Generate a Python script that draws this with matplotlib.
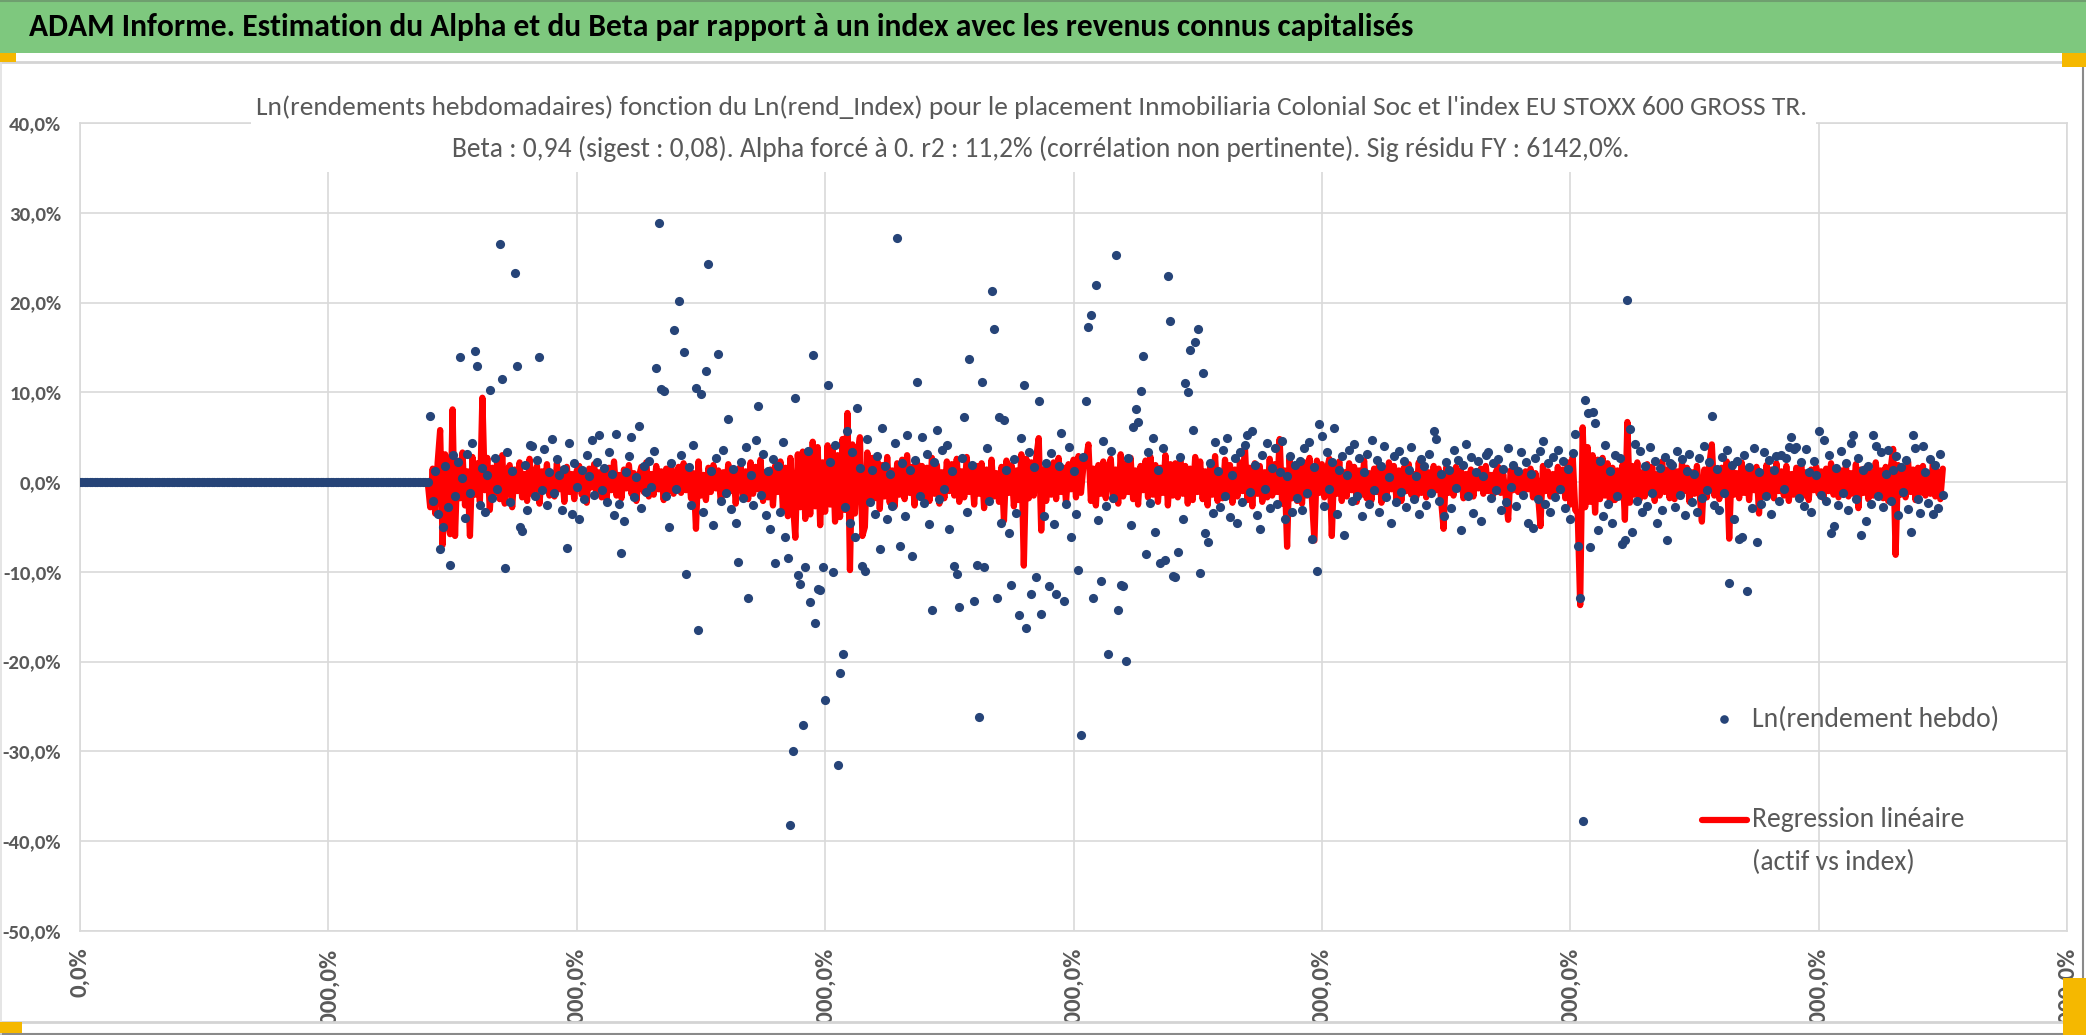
import numpy as np
import matplotlib.pyplot as plt
from matplotlib.lines import Line2D
from matplotlib.patches import Rectangle

# ---- donnees (dixiemes de pourcent, semaines 141 a 750) ----
semaines_sans_cotation = 141  # semaines 0..140 : rendement nul

actif_a = [74, -21, 12, -35, -74, -50, 18, -28, -92, 30,
           -15, 22, 139, 5, -40, 31, -12, 44, 146, 129,
           -25, 16, -33, 8, 103, -18, 27, -8, 265, 115,
           -96, 34, -22, 12, 233, 129, -50, -55, 19, -31,
           41, 40, -16, 25, 139, -9, 37, -26, 11, 48]
actif_b = [-12, 26, 8, -31, 15, -73, 44, -36, 21, -5,
           -41, 13, -19, 30, 7, 47, -14, 22, 52, -9,
           16, -22, 33, 9, -37, 54, -24, -79, -43, 11,
           29, 50, -17, 6, 63, -29, 18, -11, 24, -6,
           35, 127, 289, 104, 102, -15, -50, 21, 169, -8]
actif_c = [202, 30, 145, -102, 17, -25, 41, 105, -165, 98,
           -33, 124, 243, 12, -48, 27, 143, -21, 36, -12,
           70, -30, 15, -45, -89, 22, -18, 39, -129, 8,
           -26, 47, 85, -14, 31, -37, 12, -52, 26, -90,
           18, -33, 45, -61, -84, -382, -299, 94, -104, -114]
actif_d = [-271, -94, 35, -133, 142, -157, -119, -120, -95, -243,
           108, 22, -100, 41, -315, -213, -192, -28, 57, -46,
           34, -61, 82, 16, -93, -99, 48, -22, 13, -35,
           29, -75, 60, 18, -41, 9, -27, 44, 272, -71,
           21, -38, 52, 14, -82, 25, 111, -16, 50, -23]
actif_e = [31, -47, -143, 22, 58, -19, 36, -8, 41, -52,
           12, -93, -102, -139, 27, 72, -33, 137, 19, -132,
           -92, -262, 111, -94, 38, -21, 213, 171, -129, 73,
           -45, 69, 14, -57, -115, 26, -34, -148, 49, 108,
           -162, 33, -125, 17, -106, 90, -147, -38, 21, -116]
actif_f = [32, -47, -125, 18, 55, -132, -24, 39, -61, 12,
           -35, -98, -282, 28, 90, 173, 186, -129, 220, -42,
           -110, 46, -27, -191, 35, -18, 253, -143, -115, -116,
           -199, 27, -48, 61, 81, 67, 102, 140, -80, 33,
           -23, 49, -56, 14, -90, 38, -87, 230, 180, -105]
actif_g = [-106, -78, 28, -41, 110, 100, 147, 58, 156, 171,
           -101, 122, -57, -67, 21, -34, 45, 12, -28, 36,
           -15, 49, -39, 8, 27, -46, 33, -22, 41, 53,
           -11, 57, 19, -37, -52, 30, -8, 44, -29, 16,
           38, -24, 11, 46, -41, 7, 29, -33, 19, -18]
actif_h = [24, -31, 38, -12, 45, -63, 17, -99, 65, 51,
           -27, 33, -8, 22, 60, -36, 14, 29, -59, 8,
           36, -21, 42, -15, 27, -38, 11, 31, -24, 47,
           -9, 25, -33, 18, 40, -17, 6, -45, 29, -22,
           35, -11, 23, -28, 14, 39, -19, 7, -36, 26]
actif_i = [18, -26, 31, -12, 57, 48, -21, 9, -38, 22,
           13, -29, 36, -7, 25, -53, 19, 42, -15, 28,
           -34, 11, 24, -43, 7, 30, 34, -18, 21, -9,
           26, -31, 15, -22, 38, -6, 19, -27, 12, 33,
           -14, 22, -46, 9, -51, 27, -19, 35, 46, -24]
actif_j = [21, -33, 28, -17, 36, -8, 24, -29, 15, -41,
           32, 54, -71, -129, -377, 91, 77, -72, 78, 66,
           -53, 23, -38, 41, -24, 12, -46, 30, -15, 27,
           -69, -64, 203, 59, -56, 42, -21, 35, -33, 18,
           -27, 39, -12, 24, -45, 16, -31, 28, -65, 21]
actif_k = [19, -28, 35, -14, 26, -37, 12, 31, -22, 9,
           -33, 27, -18, 40, -9, 22, 74, -26, 15, -31,
           28, -12, 36, -112, 19, -41, 23, -63, -61, 30,
           -121, 17, -29, 38, -67, 11, -24, 33, -16, 25,
           -35, 14, 29, -21, 30, -8, 27, 39, 50, 37]
actif_l = [39, -18, 22, -27, 37, 11, -33, 24, 8, 57,
           -14, 47, -21, 30, -57, -49, 16, -26, 35, -12,
           21, -31, 44, 52, -19, 27, -59, 13, -43, 18,
           -24, 52, 40, -16, 33, -28, 9, 36, -21, 14,
           29, -37, 17, -11, 25, -30, -56, 52, 38, -19,
           -34, 40, 11, -23, 26, -36, 19, -29, 31, -14]

regr_a = [-28, 15, -35, 22, 58, -70, 31, -45, -58, 81,
          -60, 24, -18, 33, -26, 12, -60, 28, -14, 21,
          -22, 94, -9, 27, -31, 16, -12, 25, -19, 30,
          -24, 11, 19, -28, 14, -10, 22, -17, 9, -21,
          26, -13, 8, 18, -24, 12, -7, 20, -15, 10]
regr_b = [-16, 21, -8, 14, -22, 17, -11, 9, -19, 13,
          18, -14, 7, -23, 15, -6, 20, -12, 11, -17,
          12, -20, 16, -9, 23, -15, 8, -18, 14, -7,
          19, -13, 10, -21, 6, 17, -11, 22, -16, 9,
          -14, 18, -8, 12, -20, 15, -10, 21, -13, 7]
regr_c = [17, -12, 21, -9, 14, -18, 10, -52, 23, -15,
          8, -20, 16, -11, 19, -7, 13, -22, 11, -14,
          20, -10, 15, -24, 9, 18, -16, 12, -19, 22,
          -13, 17, -8, 25, -21, 11, -17, 14, -26, 19,
          -11, 23, -30, 16, -38, 27, -22, -62, 31, -28]
regr_d = [34, -41, 28, -36, 45, -27, 39, -48, 22, -33,
          41, -25, 36, -44, 30, -39, 48, -31, 77, -98,
          42, -35, 29, 50, -60, -50, 33, -22, 27, -18,
          24, -30, 19, -16, 28, -23, 13, -27, 21, -14,
          25, -19, 30, -12, 17, -26, 22, -9, 18, -24]
regr_e = [16, -21, 27, -13, 19, -24, 11, -18, 23, -10,
          20, -15, 26, -22, 12, -17, 28, -11, 15, -25,
          18, -13, 21, -29, 14, -19, 25, -16, 10, -22,
          17, -43, 24, -12, 19, -27, 13, -20, 31, -93,
          26, -18, 22, -15, 28, 49, -54, 14, -21, 17]
regr_f = [-14, 22, -19, 27, -11, 16, -23, 20, -8, 25,
          -17, 29, -12, 18, 24, 42, -21, 15, -26, 19,
          -13, 23, -18, 11, 26, -20, 14, -24, 31, -16,
          21, -11, 27, -19, 13, -25, 18, -9, 24, -17,
          28, -14, 19, -22, 16, -12, 30, -26, 20, -15]
regr_g = [21, -17, 26, -13, 18, -24, 15, -20, 28, -11,
          23, -19, 12, -26, 17, -14, 29, -21, 10, -18,
          25, -12, 19, -23, 14, -16, 22, -10, 40, -20,
          16, -27, 21, -13, 18, -22, 11, -17, 26, -15,
          20, -11, 48, -24, 13, -72, 27, -18, 15, -21]
regr_h = [18, -24, 22, -15, 27, -19, -65, 24, -12, 20,
          -17, 14, 26, -60, 19, -13, 23, -21, 11, -16,
          21, -9, 17, -22, 13, -14, 24, -18, 10, -20,
          15, -11, 19, -23, 12, -16, 22, -8, 18, -19,
          13, -21, 16, -10, 20, -14, 9, -17, 22, -12]
regr_i = [14, -17, 11, -13, 18, -9, 15, -20, -52, 16,
          -12, 10, -15, 17, -8, 13, -18, 9, -11, 14,
          -16, 12, -7, 15, -13, 18, -10, 8, -14, 11,
          17, -12, 9, -15, -42, 13, -9, 16, -11, 7,
          -14, 12, -8, 15, -17, 10, -13, -49, 18, -10]
regr_j = [12, -16, 9, -13, 17, -10, 14, -18, 22, -25,
          28, -31, -35, -137, 61, -28, 39, -22, 30, -34,
          25, -19, 27, -15, 21, -24, 16, -20, 13, -17,
          19, -42, 67, -23, 18, -14, 22, -19, 11, -16,
          20, -12, 17, -21, 9, -15, 23, -11, 14, -18]
regr_k = [15, -19, 12, -14, 21, -10, 16, -22, 11, -13,
          18, -9, -44, 14, -17, 20, 42, -15, 12, -19,
          16, -11, 23, -63, 19, -14, 10, -18, 22, -12,
          15, -20, 13, -9, 17, -35, 11, -16, 19, -13,
          14, -18, 21, -10, 12, -15, 18, -21, 9, -14]
regr_l = [16, -12, 19, -15, 11, -20, 14, -9, 17, -13,
          12, -18, 15, -10, 21, -14, 9, -17, 13, -11,
          18, -16, 10, -13, 20, -29, 14, -12, 16, -19,
          11, -15, 22, -10, 13, -18, 17, -21, 15, 37,
          -81, 19, -14, 12, -17, 23, -11, 14, -20, 16,
          -12, 18, -15, 10, -13, 21, -16, 12, -19, 15]

graduations_x = [0, 100, 200, 300, 400, 500, 600, 700, 800]
graduations_y = [-0.5, -0.4, -0.3, -0.2, -0.1, 0.0, 0.1, 0.2, 0.3, 0.4]

titre = ("ADAM Informe. Estimation du Alpha et du Beta par rapport à un index "
         "avec les revenus connus capitalisés")
sous_titre_1 = ("Ln(rendements hebdomadaires) fonction du Ln(rend_Index) pour le placement "
                "Inmobiliaria Colonial Soc et l'index EU STOXX 600 GROSS TR.")
sous_titre_2 = ("Beta : 0,94 (sigest : 0,08). Alpha forcé à 0. r2 : 11,2% "
                "(corrélation non pertinente). Sig résidu FY : 6142,0%.")

zeros = np.zeros(semaines_sans_cotation)
actif = np.concatenate([zeros, actif_a, actif_b, actif_c, actif_d, actif_e, actif_f,
                        actif_g, actif_h, actif_i, actif_j, actif_k, actif_l]) / 1000
regr = np.concatenate([zeros, regr_a, regr_b, regr_c, regr_d, regr_e, regr_f,
                       regr_g, regr_h, regr_i, regr_j, regr_k, regr_l]) / 1000
semaines = np.arange(len(actif))

# ---- mise en page ----
W, H = 2086, 1035
FONT = ['Carlito', 'Fira Sans Condensed', 'DejaVu Sans']
BLEU = '#264478'
ROUGE = '#ff0000'
GRIS_TXT = '#595959'
GRIS_GRILLE = '#d9d9d9'


def fx(x):
    return x / W


def fy(y):
    return 1 - y / H


fig = plt.figure(figsize=(W / 100, H / 100), dpi=100, facecolor='white')
renderer = fig.canvas.get_renderer()


def fit(t, largeur):
    w = t.get_window_extent(renderer=renderer).width
    t.set_fontsize(t.get_fontsize() * largeur / w)
    return t


def taille_pour(texte, largeur, **kw):
    essai = fig.text(0, 0, texte, fontsize=14, family=FONT, **kw)
    fit(essai, largeur)
    taille = essai.get_fontsize()
    essai.remove()
    return taille


ax = fig.add_axes([fx(80), fy(931), fx(2067) - fx(80), fy(123) - fy(931)])
ax.plot(semaines, regr, color=ROUGE, lw=4.5, solid_joinstyle='round',
        solid_capstyle='round', zorder=2)
ax.plot(semaines, actif, linestyle='none', marker='o', ms=6.6, color=BLEU,
        mew=0, zorder=3)

ax.set_xlim(0, 800)
ax.set_ylim(-0.5, 0.4)
ax.set_xticks(graduations_x)
ax.set_yticks(graduations_y)
fmt = plt.FuncFormatter(lambda v, p: f"{v * 100:.1f}".replace('.', ',') + '%')
ax.xaxis.set_major_formatter(fmt)
ax.yaxis.set_major_formatter(fmt)
ax.grid(True, color=GRIS_GRILLE, lw=1.2)
ax.set_axisbelow(True)
for s in ax.spines.values():
    s.set_color(GRIS_GRILLE)
    s.set_linewidth(1.2)

ax.tick_params(length=0, colors=GRIS_TXT)
ax.tick_params(axis='y', pad=13.5,
               labelsize=taille_pour("-50,0%", 59, fontweight='bold'))
ax.tick_params(axis='x', pad=12, labelrotation=90,
               labelsize=taille_pour("0,0%", 50, fontweight='bold'))
for lbl in ax.get_xticklabels() + ax.get_yticklabels():
    lbl.set_family(FONT)
    lbl.set_fontweight('bold')

# bandeau vert du titre
fig.add_artist(Rectangle((0, fy(53)), 1, 1 - fy(53), transform=fig.transFigure,
                         fc='#7ec87e', ec='none', zorder=1))
fig.add_artist(Line2D([0, 1], [fy(1), fy(1)], transform=fig.transFigure,
                      color='#6f9f6f', lw=1.5, zorder=2))
fig.add_artist(Line2D([0, 1], [fy(62), fy(62)], transform=fig.transFigure,
                      color='#d4d4d4', lw=2, zorder=2))
t = fig.text(fx(29), fy(27), titre, ha='left', va='center', fontsize=22,
             fontweight='bold', family=FONT, color='black', zorder=10)
fit(t, 1382)

# cadre blanc du sous-titre
fig.add_artist(Rectangle((fx(251), fy(172)), fx(1816) - fx(251), fy(80) - fy(172),
                         transform=fig.transFigure, fc='white', ec='none', zorder=5))
t = fig.text(fx(1032), fy(107), sous_titre_1, ha='center', va='center', fontsize=20,
             family=FONT, color=GRIS_TXT, zorder=10)
fit(t, 1549)
t = fig.text(fx(1041), fy(149), sous_titre_2, ha='center', va='center', fontsize=20,
             family=FONT, color=GRIS_TXT, zorder=10)
fit(t, 1177)

# legende
fig.add_artist(Line2D([fx(1724)], [fy(719)], transform=fig.transFigure, ls='none',
                      marker='o', ms=6.2, mew=0, color=BLEU, zorder=10))
t = fig.text(fx(1752), fy(719), "Ln(rendement hebdo)", ha='left', va='center',
             fontsize=18, family=FONT, color=GRIS_TXT, zorder=10)
fit(t, 247)
taille_leg = t.get_fontsize()
fig.add_artist(Line2D([fx(1702), fx(1747)], [fy(820), fy(820)], transform=fig.transFigure,
                      color=ROUGE, lw=4.5, solid_capstyle='round', zorder=10))
fig.text(fx(1752), fy(820), "Regression linéaire", ha='left', va='center',
         fontsize=taille_leg, family=FONT, color=GRIS_TXT, zorder=10)
fig.text(fx(1752), fy(862), "(actif vs index)", ha='left', va='center',
         fontsize=taille_leg, family=FONT, color=GRIS_TXT, zorder=10)

# bas et bords du cadre
fig.add_artist(Rectangle((0, 0), 1, fy(1022), transform=fig.transFigure,
                         fc='white', ec='none', zorder=6))
fig.add_artist(Line2D([0, fx(2063)], [fy(1022), fy(1022)], transform=fig.transFigure,
                      color='#d4d4d4', lw=2, zorder=7))
fig.add_artist(Line2D([0, 1], [fy(1034), fy(1034)], transform=fig.transFigure,
                      color='#8a8a8a', lw=1.5, zorder=7))
fig.add_artist(Line2D([fx(2083), fx(2083)], [fy(62), 0], transform=fig.transFigure,
                      color='#8a8a8a', lw=1.5, zorder=7))
fig.add_artist(Line2D([fx(1), fx(1)], [fy(62), fy(1034)], transform=fig.transFigure,
                      color='#e0e0e0', lw=1.2, zorder=7))

# poignees jaunes
for (x0, y0, x1, y1) in [(0, 53, 16, 62), (2062, 53, 2086, 67),
                         (2063, 978, 2086, 1035), (0, 1022, 22, 1033)]:
    fig.add_artist(Rectangle((fx(x0), fy(y1)), fx(x1) - fx(x0), fy(y0) - fy(y1),
                             transform=fig.transFigure, fc='#f5b800', ec='none', zorder=8))

fig.savefig('out.png', dpi=100, facecolor='white')
